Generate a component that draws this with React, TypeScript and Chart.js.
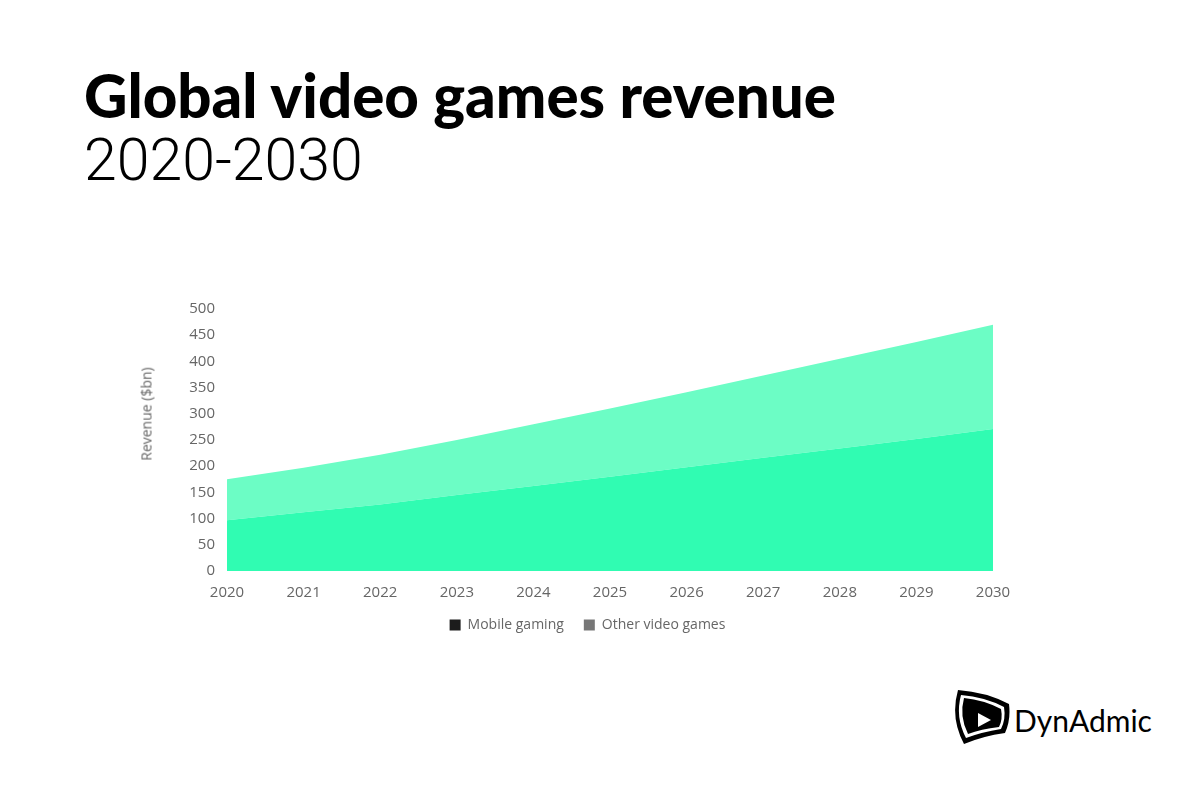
import React, { useEffect, useRef } from "react";
import Chart from "chart.js/auto";

const years = ["2020", "2021", "2022", "2023", "2024", "2025", "2026", "2027", "2028", "2029", "2030"];
const mobileGaming = [97, 112, 127, 145, 162, 180, 198, 216, 234, 252, 271];
const otherVideoGames = [78, 85, 95, 105, 118, 130, 143, 157, 171, 185, 199];

const tickColor = "#666666";
const tickFont = { family: "'Open Sans'", size: 15 };
const legendFont = { family: "'Open Sans'", size: 14 };

export default function App() {
  const canvasEl: any = useRef(null);

  useEffect(() => {
    const ctx = canvasEl.current.getContext("2d") as any;

    const config: any = {
      type: "line",
      data: {
        labels: years,
        datasets: [
          {
            label: "Mobile gaming",
            data: mobileGaming,
            fill: "origin",
            backgroundColor: "#30fcb2",
            borderWidth: 0,
            pointRadius: 0,
            tension: 0,
          },
          {
            label: "Other video games",
            data: otherVideoGames,
            fill: "-1",
            backgroundColor: "#6cfdc5",
            borderWidth: 0,
            pointRadius: 0,
            tension: 0,
          },
        ],
      },
      options: {
        responsive: false,
        animation: false,
        layout: { padding: { top: 17, left: 52, right: 51, bottom: 0 } },
        plugins: {
          tooltip: { enabled: false },
          legend: {
            display: true,
            position: "bottom",
            labels: {
              color: tickColor,
              font: legendFont,
              boxWidth: 11,
              boxHeight: 11,
              padding: 20,
              generateLabels: () => [
                { text: "Mobile gaming", fillStyle: "#1c1c1c", strokeStyle: "#1c1c1c", lineWidth: 0, fontColor: tickColor },
                { text: "Other video games", fillStyle: "#777777", strokeStyle: "#777777", lineWidth: 0, fontColor: tickColor },
              ],
            },
          },
        },
        scales: {
          x: {
            offset: false,
            afterFit: (scale: any) => {
              scale.height = 27;
            },
            grid: { display: false },
            border: { display: false },
            ticks: { color: tickColor, font: tickFont, padding: 5, maxRotation: 0, autoSkip: false },
          },
          y: {
            stacked: true,
            min: 0,
            max: 500,
            afterFit: (scale: any) => {
              scale.width = 45;
            },
            grid: { display: false },
            border: { display: false },
            ticks: { color: tickColor, font: tickFont, stepSize: 50, padding: 4 },
          },
        },
      },
    };

    const chart = new Chart(ctx, config);

    return () => {
      chart.destroy();
    };
  }, []);

  return (
    <div style={{ position: "absolute", left: 0, top: 0, width: 1200, height: 799, background: "#fff", overflow: "hidden" }}>
      <div style={{ position: "absolute", left: 84, top: 60, fontFamily: "Lato", fontWeight: 900, fontSize: 60, lineHeight: "70px", color: "#000", whiteSpace: "nowrap" }}>
        Global video games revenue
      </div>
      <div style={{ position: "absolute", left: 84, top: 125, fontFamily: "Roboto", fontWeight: 300, fontSize: 59, lineHeight: "70px", color: "#000", whiteSpace: "nowrap" }}>
        2020-2030
      </div>
      <canvas ref={canvasEl} width={914} height={350} style={{ position: "absolute", left: 130, top: 292, filter: "blur(0.4px)" }} />
      <div style={{ position: "absolute", left: 146, top: 414, transform: "translate(-50%, -50%) rotate(-90deg)", fontFamily: "'Open Sans'", fontSize: 14, color: tickColor, whiteSpace: "nowrap", filter: "blur(0.4px)" }}>
        Revenue ($bn)
      </div>
      <svg width="57" height="54" viewBox="0 0 57 54" style={{ position: "absolute", left: 953, top: 690 }}>
        <path d="M5 0 Q33 2 56 14 Q58 30 52 43 Q30 46 11 54 Q-3 28 5 0Z" fill="#000" />
        <path d="M8 5 Q32 7 51 17 Q53 29 48 39 Q29 42 13 48 Q2 27 8 5Z" fill="#fff" />
        <path d="M11 8 Q31 10 48 19 Q50 29 46 37 Q28 39 15 44 Q6 26 11 8Z" fill="#000" />
        <path d="M25 23 L38 30 L25 37Z" fill="#fff" />
      </svg>
      <div style={{ position: "absolute", left: 1014, top: 698, fontFamily: "Lato", fontWeight: 400, fontSize: 30, lineHeight: "44px", color: "#000", whiteSpace: "nowrap" }}>
        DynAdmic
      </div>
    </div>
  );
}
